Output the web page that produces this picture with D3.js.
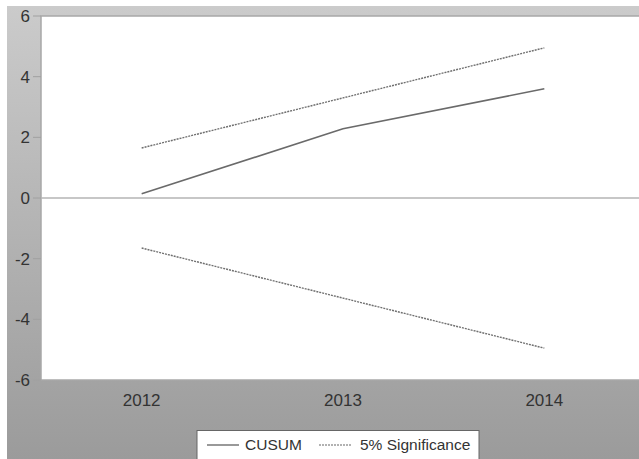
<!DOCTYPE html>
<html>
<head>
<meta charset="utf-8">
<script src="https://cdn.jsdelivr.net/npm/d3@7"></script>
<style>
	body { margin: 0; background: #fff; }
	text { font-family: "Liberation Sans", Arial, sans-serif; fill: #333; }
</style>
</head>
<body>
<svg id="chart"></svg>
<script>
const years = ["2012", "2013", "2014"];
const cusum = [0.14, 2.28, 3.6];
const upper = [1.65, 3.3, 4.95];
const lower = [-1.65, -3.3, -4.95];
const yTicks = [6, 4, 2, 0, -2, -4, -6];

const width = 639;
const height = 459;
const plot = { left: 41, top: 16, right: 645, bottom: 380 };

const svg = d3.select("#chart")
	.attr("width", width)
	.attr("height", height);

const defs = svg.append("defs");
const grad = defs.append("linearGradient")
	.attr("id", "bg")
	.attr("x1", 0).attr("y1", 0)
	.attr("x2", 0).attr("y2", 1);
grad.append("stop").attr("offset", "0%").attr("stop-color", "#cbcbcb");
grad.append("stop").attr("offset", "100%").attr("stop-color", "#9b9b9b");

// panel background
svg.append("rect")
	.attr("x", 7)
	.attr("y", 6)
	.attr("width", width - 7)
	.attr("height", height - 6)
	.attr("fill", "url(#bg)");

const x = d3.scaleBand()
	.domain(years)
	.range([plot.left, plot.right]);
const y = d3.scaleLinear()
	.domain([-6, 6])
	.range([plot.bottom, plot.top]);

const cx = (d, i) => x(years[i]) + x.bandwidth() / 2;

// plot area
svg.append("rect")
	.attr("x", plot.left)
	.attr("y", plot.top)
	.attr("width", width - plot.left + 2)
	.attr("height", plot.bottom - plot.top)
	.attr("fill", "#fff")
	.attr("stroke", "#a8a8a8")
	.attr("stroke-width", 1.5);

// y axis labels and ticks
const yAxis = svg.append("g");
yAxis.selectAll(".tick")
	.data(yTicks)
	.enter()
	.append("line")
	.attr("x1", 33)
	.attr("x2", plot.left)
	.attr("y1", (d) => y(d))
	.attr("y2", (d) => y(d))
	.attr("stroke", "#a0a0a0");
yAxis.selectAll("text")
	.data(yTicks)
	.enter()
	.append("text")
	.attr("x", 30)
	.attr("y", (d) => y(d))
	.attr("dy", "0.35em")
	.attr("text-anchor", "end")
	.style("font-size", "17px")
	.text((d) => d);

// zero line
svg.append("line")
	.attr("x1", plot.left)
	.attr("x2", width)
	.attr("y1", y(0))
	.attr("y2", y(0))
	.attr("stroke", "#b4b4b4")
	.attr("stroke-width", 1.5);

// x labels
svg.append("g")
	.selectAll("text")
	.data(years)
	.enter()
	.append("text")
	.attr("x", (d) => x(d) + x.bandwidth() / 2)
	.attr("y", 400)
	.attr("dy", "0.35em")
	.attr("text-anchor", "middle")
	.style("font-size", "17px")
	.text((d) => d);

const line = d3.line()
	.x(cx)
	.y((d) => y(d));

svg.append("path")
	.attr("d", line(cusum))
	.attr("fill", "none")
	.attr("stroke", "#6a6a6a")
	.attr("stroke-width", 1.6);

[upper, lower].forEach((s) => {
	svg.append("path")
		.attr("d", line(s))
		.attr("fill", "none")
		.attr("stroke", "#707070")
		.attr("stroke-width", 1.4)
		.attr("stroke-dasharray", "2,1");
});

// legend
const legend = svg.append("g");
legend.append("rect")
	.attr("x", 197)
	.attr("y", 430.5)
	.attr("width", 282)
	.attr("height", 30)
	.attr("fill", "#fff")
	.attr("stroke", "#666")
	.attr("stroke-width", 1);
const ly = 445;
legend.append("line")
	.attr("x1", 207).attr("x2", 239)
	.attr("y1", ly).attr("y2", ly)
	.attr("stroke", "#555")
	.attr("stroke-width", 1.2);
legend.append("text")
	.attr("x", 245)
	.attr("y", ly)
	.attr("dy", "0.35em")
	.style("font-size", "15.5px")
	.text("CUSUM");
legend.append("line")
	.attr("x1", 319).attr("x2", 352)
	.attr("y1", ly).attr("y2", ly)
	.attr("stroke", "#666")
	.attr("stroke-width", 1.2)
	.attr("stroke-dasharray", "2,1");
legend.append("text")
	.attr("x", 360)
	.attr("y", ly)
	.attr("dy", "0.35em")
	.style("font-size", "15.5px")
	.text("5% Significance");
</script>
</body>
</html>
